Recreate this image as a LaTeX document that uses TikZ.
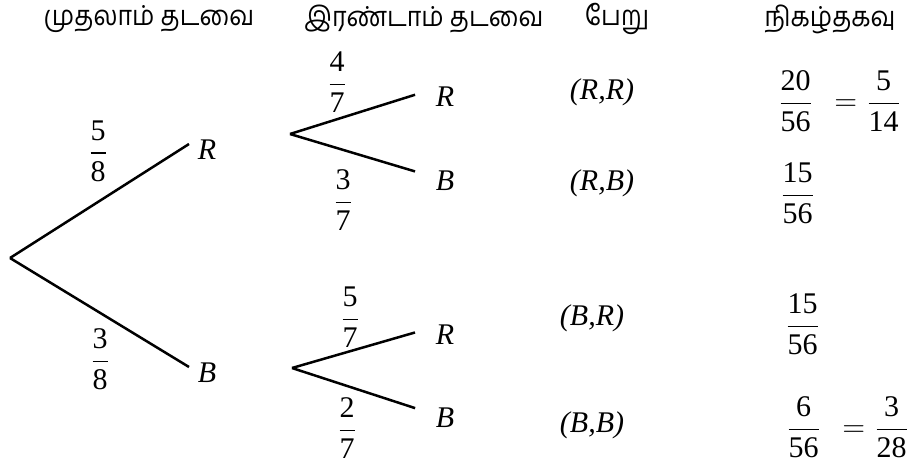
\documentclass[tikz,border=0pt]{standalone}
\usepackage{amsmath}
\usepackage{fontspec}
\setmainfont{Liberation Serif}
\newfontfamily\tamilfont[Script=Tamil,FakeStretch=0.91]{Hind Madurai}
\usetikzlibrary{positioning}
\newcommand\prfrac[2]{\dfrac{\textup{#1}}{\textup{#2}}}

\begin{document}
\begin{tikzpicture}[x=0.4pt,y=-0.4pt,
    font=\fontsize{12}{14.4}\selectfont,
    branch/.style={line width=1pt},
    head/.style={font=\tamilfont\fontsize{11}{13}\selectfont},
    lab/.style={font=\fontsize{12}{14.4}\selectfont\itshape},
    prob/.style={anchor=west,inner sep=0pt}]
  \useasboundingbox (0,0) rectangle (913,468);
  % headings
  \node[head] (h1) at (149,19) {முதலாம் தடவை};
  \node[head] (h2) at (424,19) {இரண்டாம் தடவை};
  \node[head] (h3) at (617,19) {பேறு};
  \node[head] (h4) at (830,19) {நிகழ்தகவு};
  % first draw
  \coordinate (root) at (10,258);
  \node[lab] (r) at (207,150) {R};
  \node[lab] (b) at (207,373) {B};
  \draw[branch] (root) -- ([yshift=2.4pt]r.west);
  \draw[branch] (root) -- ([yshift=2.4pt]b.west);
  \node (pr) at (98,151) {$\prfrac{5}{8}$};
  \node (pb) at (100,359) {$\prfrac{3}{8}$};
  % second draw
  \coordinate (fr) at (290,134);
  \coordinate (fb) at (292,368);
  \node[lab] (rr) at (445,97) {R};
  \node[lab] (rb) at (445,181) {B};
  \node[lab] (br) at (445,335) {R};
  \node[lab] (bb) at (445,418) {B};
  \draw[branch,shorten >=5pt] (fr) -- ([yshift=2.4pt]rr.west);
  \draw[branch,shorten >=5pt] (fr) -- ([yshift=2.4pt]rb.west);
  \draw[branch,shorten >=5pt] (fb) -- ([yshift=2.4pt]br.west);
  \draw[branch,shorten >=5pt] (fb) -- ([yshift=2.4pt]bb.west);
  \node (prr) at (337,82) {$\prfrac{4}{7}$};
  \node (prb) at (343,200) {$\prfrac{3}{7}$};
  \node (pbr) at (350,317) {$\prfrac{5}{7}$};
  \node (pbb) at (347,428) {$\prfrac{2}{7}$};
  % outcomes
  \node[lab] (o1) at (602,92) {(R,R)};
  \node[lab] (o2) at (602,183) {(R,B)};
  \node[lab] (o3) at (592,318) {(B,R)};
  \node[lab] (o4) at (592,425) {(B,B)};
  % probabilities
  \node[prob] (q1) at (777,101) {$\prfrac{20}{56}\hspace{5pt}=\prfrac{5}{14}$};
  \node[prob] (q2) at (779,193) {$\prfrac{15}{56}$};
  \node[prob] (q3) at (784,324) {$\prfrac{15}{56}$};
  \node[prob] (q4) at (785,427) {$\prfrac{6}{56}\hspace{5pt}=\prfrac{3}{28}$};
\end{tikzpicture}
\end{document}
